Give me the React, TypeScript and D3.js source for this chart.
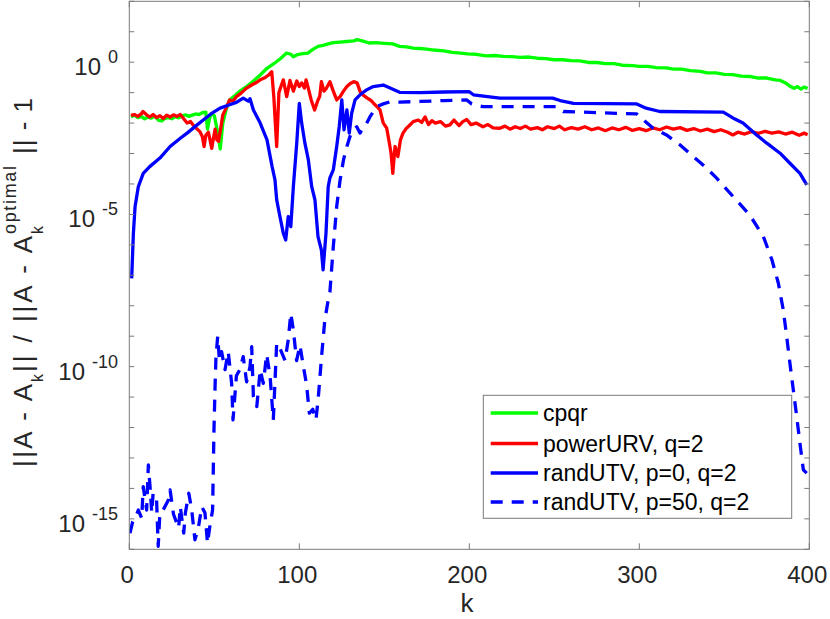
import * as d3 from "d3"

// k values and log10 of the relative error
const cpqrK = [1, 3, 5, 7, 9, 11, 13, 15, 17, 19, 21, 23, 25, 27, 29, 31, 33, 35, 37, 39, 41, 43, 45, 46, 47, 48, 50, 52, 53.5, 55, 57, 59, 62, 65, 69, 73, 77, 81, 85, 89, 92.5, 95, 96.5, 99, 102, 105, 108, 111, 114, 117, 120, 124, 128, 132, 134, 137, 141, 145, 150, 155, 159, 163, 167, 171, 175, 179, 185, 190, 195, 199, 204, 210, 215, 220, 225, 230, 235, 240, 245, 250, 255, 260, 265, 270, 275, 280, 285, 290, 296, 300, 305, 310, 316, 320, 325, 330, 336, 340, 345, 350, 355, 360, 365, 370, 375, 380, 383, 386, 389, 391, 393, 395, 397, 399]
const cpqrExp = [-1.8, -1.74, -1.82, -1.78, -1.86, -1.8, -1.84, -1.77, -1.9, -1.93, -1.85, -1.82, -1.86, -1.79, -1.83, -1.76, -1.73, -1.78, -1.74, -1.7, -1.72, -1.66, -1.64, -2.2, -1.9, -1.7, -1.75, -2.3, -2.85, -2.0, -1.55, -1.24, -1.1, -0.95, -0.8, -0.62, -0.42, -0.2, -0.05, 0.12, 0.3, 0.26, 0.18, 0.25, 0.28, 0.3, 0.42, 0.52, 0.55, 0.6, 0.64, 0.66, 0.68, 0.7, 0.74, 0.7, 0.63, 0.64, 0.62, 0.6, 0.52, 0.5, 0.46, 0.45, 0.43, 0.4, 0.37, 0.32, 0.3, 0.27, 0.26, 0.21, 0.22, 0.19, 0.18, 0.16, 0.17, 0.13, 0.12, 0.08, 0.08, 0.05, 0.04, -0.01, -0.01, -0.05, -0.05, -0.1, -0.11, -0.14, -0.14, -0.18, -0.19, -0.23, -0.23, -0.28, -0.3, -0.35, -0.35, -0.4, -0.41, -0.46, -0.47, -0.52, -0.52, -0.58, -0.6, -0.68, -0.8, -0.86, -0.8, -0.88, -0.82, -0.86]

const urvK = [1, 3, 5, 7, 8, 10, 12, 14, 16, 18, 20, 22, 24, 26, 28, 30, 32, 34, 36, 38, 40, 41.5, 43, 44, 45, 46.5, 47.5, 48.5, 49.5, 50.5, 51.5, 52.5, 54, 55, 57, 59, 61, 63, 65, 67, 69, 72, 75, 77, 80, 82, 83.8, 85, 86.7, 88, 89.5, 90.6, 92.6, 94.5, 96.5, 98.5, 100, 101.4, 103, 104, 105.5, 107, 109, 111, 112, 113, 114.5, 116, 118, 120, 122, 124, 126, 128, 130, 132, 134, 136, 138, 140, 142, 143.5, 145.5, 147.5, 149.4, 151.4, 153, 154, 155, 156.3, 158, 159.5, 161, 163, 164, 167, 170, 172, 174, 176, 178, 180, 183, 186, 188.6, 191, 194, 196, 198.5, 201, 204, 208, 211, 214, 218, 221, 224, 227, 230, 233, 236, 240, 243, 246, 250, 253, 256, 260, 264, 268, 272, 276, 280, 284, 288, 292, 296, 300, 304, 308, 312, 316, 320, 324, 328, 332, 336, 340, 344, 348, 352, 355, 358, 362, 366, 370, 374, 378, 382, 386, 390, 394, 397, 399]
const urvExp = [-1.75, -1.72, -1.78, -1.7, -1.62, -1.72, -1.8, -1.72, -1.82, -1.76, -1.85, -1.74, -1.8, -1.73, -1.78, -1.72, -1.86, -2.0, -1.95, -2.1, -2.2, -2.28, -2.45, -2.77, -2.4, -2.3, -2.55, -2.83, -2.5, -2.2, -2.55, -2.6, -2.1, -1.73, -1.5, -1.24, -1.28, -1.13, -1.05, -0.95, -0.85, -0.75, -0.66, -0.58, -0.5, -0.42, -0.31, -1.13, -2.77, -1.0, -0.75, -0.58, -1.13, -0.6, -0.95, -0.62, -0.8, -0.68, -0.85, -0.58, -0.9, -1.24, -1.57, -1.24, -1.13, -0.64, -0.95, -0.85, -0.64, -0.95, -1.24, -1.13, -0.95, -0.8, -0.7, -0.64, -0.68, -1.0, -1.1, -1.18, -1.25, -1.34, -1.45, -1.57, -2.0, -2.16, -2.66, -3.0, -3.65, -2.77, -3.1, -2.55, -2.33, -2.17, -2.12, -1.95, -1.9, -1.98, -1.8, -2.05, -1.92, -2.0, -1.95, -2.1, -2.06, -1.9, -2.08, -1.96, -1.88, -2.05, -2.0, -2.12, -2.05, -2.16, -2.17, -2.1, -2.2, -2.12, -2.18, -2.1, -2.2, -2.15, -2.22, -2.12, -2.18, -2.1, -2.22, -2.15, -2.2, -2.12, -2.22, -2.16, -2.25, -2.16, -2.22, -2.14, -2.24, -2.18, -2.25, -2.16, -2.22, -2.13, -2.2, -2.15, -2.24, -2.18, -2.26, -2.2, -2.28, -2.22, -2.3, -2.39, -2.3, -2.36, -2.28, -2.34, -2.27, -2.33, -2.29, -2.36, -2.3, -2.4, -2.33, -2.38]

const utv0K = [1.4, 2.4, 3.4, 5.3, 8.2, 12, 18, 24, 30, 34, 39, 43.5, 48, 53.4, 59, 63, 67, 70, 71, 73, 77, 81, 84, 85.7, 86.7, 88.6, 90.6, 92, 93.5, 95, 96.5, 98.5, 100, 101.4, 103.3, 105.3, 107.3, 109.2, 111, 113, 114, 115.7, 117, 118, 120, 122, 123.5, 125, 126.3, 128, 129.4, 130.8, 132.8, 135.7, 139.6, 143.5, 149.4, 153.4, 159, 171, 185, 200, 202.4, 218, 249, 253.4, 261.3, 298.5, 304, 312, 349.4, 355.3, 361, 369, 375, 382.8, 388.6, 394.5, 398.5]
const utv0Exp = [-7.1, -5.62, -4.74, -4.09, -3.65, -3.43, -3.15, -2.77, -2.5, -2.33, -2.1, -1.9, -1.7, -1.51, -1.4, -1.32, -1.18, -1.28, -1.2, -1.57, -2.0, -2.55, -3.43, -3.87, -4.52, -5.07, -5.62, -5.84, -5.07, -5.4, -4.09, -2.66, -1.35, -2.0, -2.66, -3.2, -4.09, -4.52, -5.73, -6.17, -6.82, -5.62, -4.09, -3.8, -3.54, -2.77, -2.11, -1.24, -2.22, -1.57, -2.33, -1.68, -1.24, -1.07, -0.91, -0.8, -0.75, -0.85, -0.99, -1.0, -0.98, -0.97, -1.07, -1.18, -1.18, -1.26, -1.35, -1.37, -1.51, -1.62, -1.64, -1.84, -2.0, -2.39, -2.66, -2.99, -3.32, -3.65, -4.03]

const utv50K = [0.4, 2, 4, 5.3, 7.3, 8.2, 10.2, 11.2, 12.2, 13.2, 14, 16, 17, 18, 20, 23, 24, 26, 29, 30, 32, 33, 35, 36.7, 38.6, 40.6, 42.6, 44.5, 46, 47.5, 49, 49.8, 50.5, 51, 52, 53, 54.3, 56.3, 58.2, 60.2, 61, 63, 65, 67, 69, 71, 72, 73, 75, 77, 78.8, 80.8, 82.8, 84.7, 86.7, 88.6, 91.6, 93.5, 95, 96.5, 98.4, 100.4, 102.4, 104.3, 105.9, 107.9, 109.8, 111.2, 113.1, 115, 117, 118, 120, 122, 124, 126, 128, 129.8, 131.8, 133.8, 135.7, 137, 138.6, 141.6, 145.5, 149.4, 153.4, 159, 171, 185, 198.5, 201.4, 208, 251.4, 255.3, 298.5, 302.4, 308.2, 316, 324, 331.8, 339.6, 345.5, 355.3, 365, 373, 378, 381.8, 384.7, 386.7, 388.6, 390.6, 392.6, 394.5, 396.5, 398.5]
const utv50Exp = [-15.47, -15.09, -14.9, -14.71, -14.98, -13.94, -14.71, -13.23, -13.94, -14.8, -14.16, -14.3, -15.9, -14.8, -14.7, -14.38, -14.05, -14.85, -15.3, -14.6, -15.47, -14.8, -14.16, -14.7, -15.69, -15.3, -14.6, -14.8, -15.8, -15.2, -14.71, -12.08, -10.55, -9.67, -9.01, -9.8, -9.51, -10.1, -9.51, -10.55, -11.75, -10.3, -10.1, -9.67, -10.5, -10.0, -9.34, -10.98, -11.31, -10.1, -10.55, -9.6, -10.3, -11.75, -9.23, -9.4, -9.8, -9.12, -8.25, -8.8, -9.8, -9.3, -10.0, -10.6, -11.53, -11.4, -11.75, -11.0, -9.67, -8.47, -7.81, -7.55, -6.06, -4.74, -3.87, -3.21, -2.77, -2.44, -2.22, -2.12, -2.33, -2.2, -2.12, -1.79, -1.46, -1.37, -1.3, -1.31, -1.29, -1.26, -1.24, -1.37, -1.46, -1.46, -1.62, -1.7, -1.9, -2.17, -2.39, -2.72, -3.1, -3.48, -3.81, -4.42, -5.02, -5.73, -6.49, -7.26, -8.14, -9.01, -9.89, -10.77, -11.64, -12.52, -13.39, -13.5]

const xTicks = [0, 100, 200, 300, 400]
const yLabelExps = [0, -5, -10, -15]

const seriesNames = ["cpqr", "powerURV, q=2", "randUTV, p=0, q=2", "randUTV, p=50, q=2"]

const W = 830
const H = 619
const left = 129.3
const right = 809.3
const top = 1.3
const bottom = 549.3
const font = "'Liberation Sans', Arial, Helvetica, sans-serif"
const axisColor = "#7a7a7a"
const textColor = "#262626"

export default function App() {
  const x = d3.scaleLinear().domain([0, 400]).range([left, right])
  const y = d3.scaleLog().domain([1e-16, 1e2]).range([bottom, top])

  const makePath = (ks: number[], es: number[]) =>
    d3
      .line<number>()
      .x((_, i) => x(ks[i]))
      .y((e) => y(Math.pow(10, e)))(es) || ""

  const series = [
    { d: makePath(cpqrK, cpqrExp), color: "#00ff00", dash: undefined },
    { d: makePath(urvK, urvExp), color: "#ff0000", dash: undefined },
    { d: makePath(utv0K, utv0Exp), color: "#0000ff", dash: undefined },
    { d: makePath(utv50K, utv50Exp), color: "#0000ff", dash: "12,9" },
  ]

  const decades = d3.range(-16, 3).map((e) => Math.pow(10, e))

  // legend geometry
  const lg = { x: 483.3, y: 395.3, w: 308.4, h: 123 }
  const entryY = [413, 443.5, 473, 502]

  return (
    <svg
      width={W}
      height={H}
      style={{ position: "absolute", left: 0, top: 0, background: "#fff" }}
      fontFamily={font}
    >
      <defs>
        <clipPath id="plot">
          <rect x={left} y={top} width={right - left} height={bottom - top} />
        </clipPath>
      </defs>

      <rect x={0} y={0} width={W} height={H} fill="#fff" />

      {/* data */}
      <g clipPath="url(#plot)">
        {series.map((s, i) => (
          <path
            key={i}
            d={s.d}
            fill="none"
            stroke={s.color}
            strokeWidth={3.3}
            strokeDasharray={s.dash}
            strokeLinejoin="round"
          />
        ))}
      </g>

      {/* box */}
      <rect
        x={left}
        y={top}
        width={right - left}
        height={bottom - top}
        fill="none"
        stroke={axisColor}
        strokeWidth={1}
      />

      {/* y ticks, both sides */}
      {decades.map((v, i) => (
        <g key={i}>
          <line x1={left} x2={left + 5} y1={y(v)} y2={y(v)} stroke={axisColor} />
          <line x1={right} x2={right - 5} y1={y(v)} y2={y(v)} stroke={axisColor} />
        </g>
      ))}

      {/* x ticks, top and bottom */}
      {xTicks.map((t) => (
        <g key={t}>
          <line x1={x(t)} x2={x(t)} y1={bottom} y2={bottom - 6} stroke={axisColor} />
          <line x1={x(t)} x2={x(t)} y1={top} y2={top + 6} stroke={axisColor} />
          <text
            x={x(t) - 2}
            y={583}
            textAnchor="middle"
            fontSize={24}
            fill={textColor}
          >
            {t}
          </text>
        </g>
      ))}

      {/* y tick labels */}
      {yLabelExps.map((e) => (
        <text key={e} x={118} y={y(Math.pow(10, e)) + 13} textAnchor="end" fill={textColor}>
          <tspan fontSize={24}>10</tspan>
          <tspan fontSize={18} dx={7} dy={-12}>
            {e === 0 ? "0" : `-${-e}`}
          </tspan>
        </text>
      ))}

      {/* x label */}
      <text x={467} y={612} textAnchor="middle" fontSize={26} fill={textColor}>
        k
      </text>

      {/* y label, built from pieces along the rotated axis */}
      <g fill={textColor}>
        <text transform="translate(32,467) rotate(-90)" fontSize={26} textLength={83} lengthAdjust="spacing">
          ||A - A
        </text>
        <text transform="translate(43,382) rotate(-90)" fontSize={16}>
          k
        </text>
        <text transform="translate(32,372) rotate(-90)" fontSize={26} textLength={136} lengthAdjust="spacing">
          || / ||A - A
        </text>
        <text transform="translate(43,234) rotate(-90)" fontSize={16}>
          k
        </text>
        <text transform="translate(16,234) rotate(-90)" fontSize={18} textLength={68} lengthAdjust="spacing">
          optimal
        </text>
        <text transform="translate(32,154) rotate(-90)" fontSize={26} textLength={56} lengthAdjust="spacing">
          || - 1
        </text>
      </g>

      {/* legend */}
      <rect x={lg.x} y={lg.y} width={lg.w} height={lg.h} fill="#fff" stroke={axisColor} strokeWidth={1} />
      {seriesNames.map((name, i) => (
        <g key={name}>
          <line
            x1={490.7}
            x2={538}
            y1={entryY[i]}
            y2={entryY[i]}
            stroke={series[i].color}
            strokeWidth={3.3}
            strokeDasharray={series[i].dash}
          />
          <text x={543} y={entryY[i] + 8} fontSize={23} fill="#000">
            {name}
          </text>
        </g>
      ))}
    </svg>
  )
}
